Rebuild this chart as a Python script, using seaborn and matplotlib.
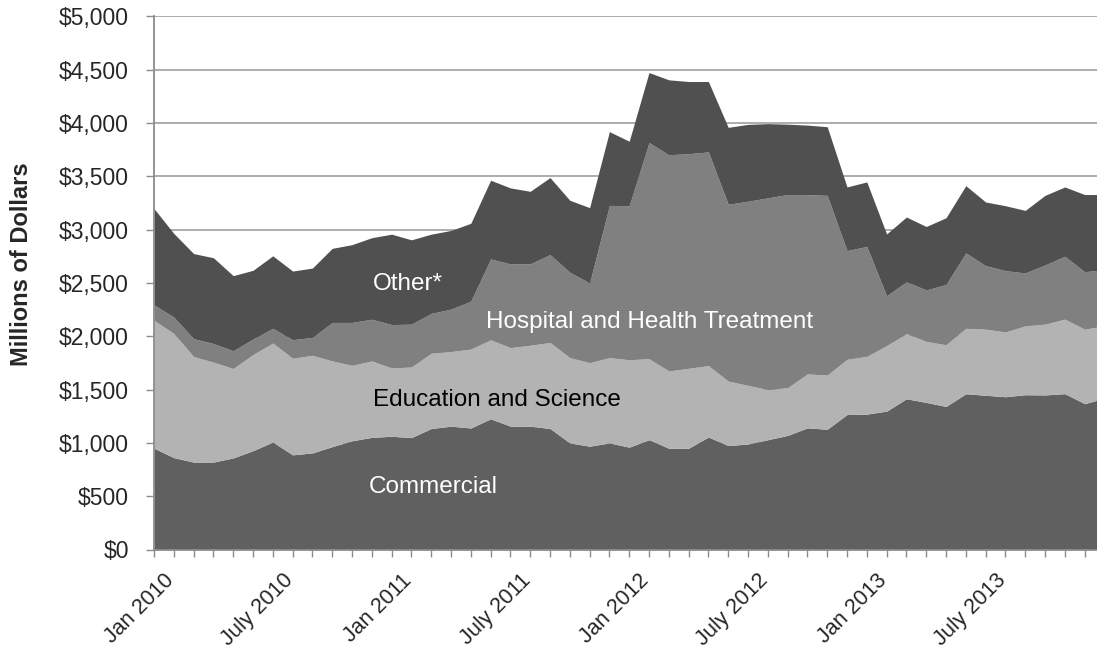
import numpy as np
import pandas as pd
import matplotlib
matplotlib.use("Agg")
from matplotlib import pyplot as plt
from matplotlib import transforms
from matplotlib.ticker import FuncFormatter, MultipleLocator
import seaborn as sns

# monthly values, Jan 2010 .. Jan 2014 (millions of dollars)
months = pd.date_range("2010-01-01", periods=49, freq="MS")

commercial = [950, 862, 820, 820, 859, 927, 1008, 888, 906, 965, 1020, 1052,
              1062, 1050, 1135, 1157, 1140, 1226, 1157, 1157, 1135, 1000, 969, 1000,
              960, 1030, 950, 950, 1055, 975, 990, 1030, 1070, 1141, 1128, 1266,
              1270, 1298, 1414, 1380, 1342, 1461, 1447, 1433, 1452, 1450, 1462, 1368,
              1420]
education = [1200, 1165, 990, 938, 839, 902, 929, 906, 916, 804, 708, 717,
             641, 662, 706, 700, 740, 741, 737, 759, 807, 800, 784, 800,
             820, 760, 725, 750, 670, 605, 550, 470, 448, 506, 509, 518,
             542, 615, 611, 572, 579, 614, 620, 608, 646, 664, 699, 699,
             678]
hospital = [145, 153, 168, 174, 167, 146, 138, 174, 168, 361, 402, 391,
            407, 402, 374, 398, 450, 759, 785, 763, 825, 801, 747, 1428,
            1445, 2027, 2028, 2013, 2005, 1659, 1727, 1799, 1812, 1682, 1685, 1020,
            1031, 467, 487, 483, 565, 707, 596, 575, 496, 555, 590, 539,
            527]
other = [903, 785, 798, 805, 704, 644, 680, 644, 650, 695, 730, 765,
         848, 791, 743, 738, 730, 738, 713, 681, 722, 675, 707, 692,
         605, 657, 703, 677, 660, 721, 721, 696, 660, 652, 644, 597,
         605, 580, 607, 595, 626, 631, 597, 609, 587, 653, 650, 724,
         705]

series_names = ["Commercial", "Education and Science", "Hospital and Health Treatment", "Other*"]
colors = ["#606060", "#b3b3b3", "#808080", "#505050"]

tick_pos = [0, 6, 12, 18, 24, 30, 36, 42]
tick_labels = ["Jan 2010", "July 2010", "Jan 2011", "July 2011",
               "Jan 2012", "July 2012", "Jan 2013", "July 2013"]

df = pd.DataFrame({"month": months, "Commercial": commercial,
                   "Education and Science": education,
                   "Hospital and Health Treatment": hospital,
                   "Other*": other})

sns.set_style("white")
plt.rcParams["font.family"] = ["Liberation Sans", "DejaVu Sans"]

fig = plt.figure(figsize=(10.97, 6.54), dpi=100)
ax = fig.add_axes([154 / 1097, 104.5 / 654, 943 / 1097, 533 / 654])

x = np.arange(len(df))
ax.stackplot(x, [df[c] for c in series_names], colors=colors, linewidth=0)

ax.set_xlim(0, 943 / 19.8)
ax.set_ylim(0, 5000)
ax.yaxis.set_major_locator(MultipleLocator(500))
ax.yaxis.set_major_formatter(FuncFormatter(lambda v, p: f"${v:,.0f}"))
ax.set_axisbelow(True)
ax.grid(axis="y", color="#a6a6a6", linewidth=1.3)
ax.grid(axis="x", visible=False)

for s in ["top", "right"]:
    ax.spines[s].set_visible(False)
for s in ["left", "bottom"]:
    ax.spines[s].set_color("#8c8c8c")
    ax.spines[s].set_linewidth(1.3)

ax.set_xticks(tick_pos)
ax.set_xticks(np.arange(0, 48), minor=True)
ax.set_xticklabels(tick_labels)
ax.tick_params(axis="x", which="both", direction="out", length=5, width=1, color="#8c8c8c",
               bottom=True, pad=0, labelsize=15.5)
ax.tick_params(axis="y", direction="out", length=6, width=1, color="#8c8c8c",
               left=True, pad=12, labelsize=16.5)

off = transforms.ScaledTranslation(0.17, -0.21, fig.dpi_scale_trans)
for lbl in ax.get_xticklabels():
    lbl.set_rotation(45)
    lbl.set_rotation_mode("anchor")
    lbl.set_ha("right")
    lbl.set_va("center")
    lbl.set_transform(lbl.get_transform() + off)

fig.text(22 / 1097, 1 - 264 / 654, "Millions of Dollars", rotation=90,
         ha="center", va="center", fontsize=17, fontweight="bold")

# labels inside the areas
ax.text(12.8, 2490, "Other*", color="white", fontsize=17.5, ha="center", va="center")
ax.text(25.05, 2133, "Hospital and Health Treatment", color="white", fontsize=17.5,
        ha="center", va="center")
ax.text(17.3, 1398, "Education and Science", color="black", fontsize=17.5,
        ha="center", va="center")
ax.text(14.1, 588, "Commercial", color="white", fontsize=17.5, ha="center", va="center")

fig.savefig("out.png", dpi=100)
